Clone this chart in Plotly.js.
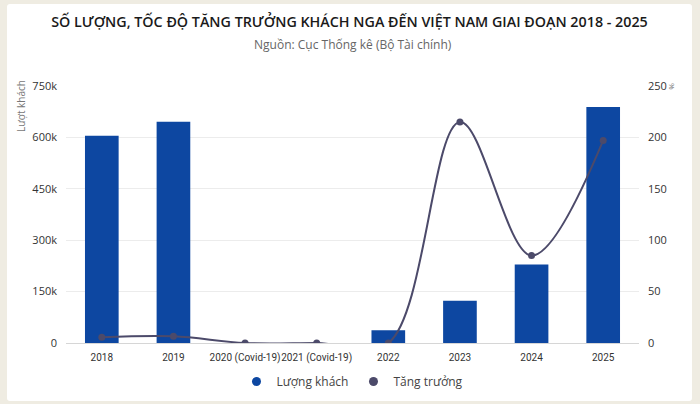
<!DOCTYPE html>
<html>
<head>
<meta charset="utf-8">
<script src="https://cdn.plot.ly/plotly-3.0.1.min.js"></script>
<style>
    body { margin: 0; background: #efece2; width: 700px; height: 404px; overflow: hidden; }
    #chart { position: absolute; left: 7px; top: 4px; width: 685px; height: 397px; background: #fff; border-radius: 3px; }
</style>
</head>
<body>
<div id="chart"></div>
<script>
// data
var years = ["2018", "2019", "2020 (Covid-19)", "2021 (Covid-19)", "2022", "2023", "2024", "2025"];
var visitors = [605000, 646000, 0, 0, 37000, 123000, 229000, 689000];
var growth = [5.5, 6.5, 0, 0, 0, 215, 85, 197];

var barColor = "#0d47a1";
var lineColor = "#4c4a6a";
var font = "Open Sans, sans-serif";
var tickFont = "Roboto";

var traces = [
    {
        type: "bar", x: years, y: visitors, name: "Lượng khách",
        marker: {color: barColor}, showlegend: false, hoverinfo: "y"
    },
    {
        type: "scatter", mode: "lines+markers", x: years, y: growth, yaxis: "y2",
        name: "Tăng trưởng", showlegend: false,
        line: {color: lineColor, width: 2, shape: "spline", smoothing: 1},
        marker: {color: lineColor, size: 7}
    },
    // legend-only entries so both show a round dot
    {
        type: "scatter", mode: "markers", x: [null], y: [null], name: "Lượng khách",
        marker: {color: barColor, size: 9, symbol: "circle"}
    },
    {
        type: "scatter", mode: "markers", x: [null], y: [null], name: "Tăng trưởng", yaxis: "y2",
        marker: {color: lineColor, size: 9, symbol: "circle"}
    }
];

var layout = {
    width: 685, height: 397,
    margin: {l: 59, r: 53, t: 82, b: 57.5, autoexpand: false},
    paper_bgcolor: "rgba(0,0,0,0)",
    plot_bgcolor: "#fff",
    font: {family: font, color: "#333", size: 11},
    bargap: 0.53,
    title: {
        text: "SỐ LƯỢNG, TỐC ĐỘ TĂNG TRƯỞNG KHÁCH NGA ĐẾN VIỆT NAM GIAI ĐOẠN 2018 - 2025",
        font: {family: font, size: 14.3, color: "#1a1a1a", weight: 600},
        x: 0.5, xanchor: "center", yref: "container", y: 1 - 18 / 397, yanchor: "middle"
    },
    xaxis: {
        type: "category", showgrid: false, zeroline: false,
        showline: true, linecolor: "#d6d6d6", linewidth: 1,
        tickfont: {family: tickFont, size: 10, color: "#333"}, ticks: "", tickangle: 0, ticklabelstandoff: 5
    },
    yaxis: {
        range: [0, 750000], tickvals: [0, 150000, 300000, 450000, 600000, 750000],
        ticktext: ["0", "150k", "300k", "450k", "600k", "750k"],
        gridcolor: "#ececec", zeroline: false, showline: false,
        tickfont: {size: 11, color: "#333"}, ticks: "", ticklabelstandoff: 8
    },
    yaxis2: {
        range: [0, 250], tickvals: [0, 50, 100, 150, 200, 250],
        overlaying: "y", side: "right", showgrid: false, zeroline: false, showline: false,
        tickfont: {size: 11, color: "#333"}, ticks: "", ticklabelstandoff: 8
    },
    legend: {
        orientation: "h", x: 0.5, xanchor: "center", y: -0.15, yanchor: "middle",
        font: {size: 12, color: "#444"}, itemwidth: 30
    },
    annotations: [
        {
            text: "Nguồn: Cục Thống kê (Bộ Tài chính)", xref: "paper", yref: "paper",
            x: 0.5, y: 1 + (82 - 40) / 257.5, xanchor: "center", yanchor: "middle",
            showarrow: false, font: {size: 12, color: "#666"}
        },
        {
            text: "Lượt khách", xref: "paper", yref: "paper", textangle: -90,
            x: -45 / 573, y: 0.922, xanchor: "center", yanchor: "middle",
            showarrow: false, font: {size: 10, color: "#777"}
        },
        {
            text: "%", xref: "paper", yref: "paper", textangle: 90,
            x: 1 + 34 / 573, y: 1, xanchor: "center", yanchor: "middle",
            showarrow: false, font: {size: 8, color: "#777"}
        }
    ]
};

Plotly.newPlot("chart", traces, layout, {displayModeBar: false, staticPlot: true});
</script>
</body>
</html>
